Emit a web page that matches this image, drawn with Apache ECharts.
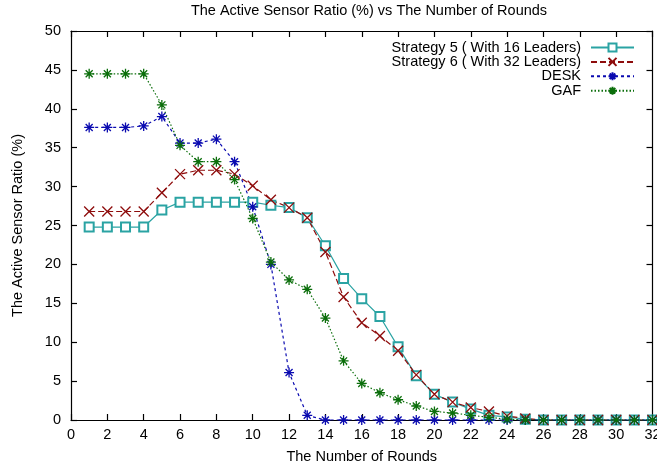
<!DOCTYPE html>
<html>
<head>
<meta charset="utf-8">
<script src="https://cdn.jsdelivr.net/npm/echarts@6/dist/echarts.min.js"></script>
<style>
  html, body { margin: 0; padding: 0; background: #fff; }
  #chart { width: 657px; height: 467px; }
</style>
</head>
<body>
<div id="chart"></div>
<script>
// rounds 1..32
const rounds = [1, 2, 3, 4, 5, 6, 7, 8, 9, 10, 11, 12, 13, 14, 15, 16,
  17, 18, 19, 20, 21, 22, 23, 24, 25, 26, 27, 28, 29, 30, 31, 32]

const strategy5 = [24.8, 24.8, 24.8, 24.8, 27.0, 28.0, 28.0, 28.0, 28.0, 28.0, 27.6, 27.3, 26.0, 22.4, 18.2, 15.6,
  13.3, 9.4, 5.7, 3.3, 2.3, 1.4, 0.6, 0.4, 0.1, 0, 0, 0, 0, 0, 0, 0]
const strategy6 = [26.8, 26.8, 26.8, 26.8, 29.2, 31.6, 32.1, 32.1, 31.6, 30.1, 28.3, 27.3, 26.0, 21.6, 15.8, 12.5,
  10.8, 8.9, 5.8, 3.3, 2.3, 1.6, 1.1, 0.5, 0.2, 0, 0, 0, 0, 0, 0, 0]
const desk = [37.6, 37.6, 37.6, 37.8, 39.0, 35.6, 35.6, 36.1, 33.2, 27.4, 20.0, 6.1, 0.6, 0, 0, 0,
  0, 0, 0, 0, 0, 0, 0, 0, 0, 0, 0, 0, 0, 0, 0, 0]
const gaf = [44.5, 44.5, 44.5, 44.5, 40.5, 35.3, 33.2, 33.2, 30.9, 25.9, 20.3, 18.0, 16.8, 13.1, 7.6, 4.7,
  3.5, 2.6, 1.8, 1.1, 0.9, 0.6, 0.35, 0.1, 0, 0, 0, 0, 0, 0, 0, 0]

const seriesNames = ['Strategy 5 ( With 16 Leaders)', 'Strategy 6 ( With 32 Leaders)', 'DESK', 'GAF']
const seriesColors = ['#2aa3a3', '#8e0c0c', '#0a0ab0', '#0b6e0b']

const FONT = 'Liberation Sans'
const FS = 14.5
const xSymbol = 'path://M0,0L10,10M10,0L0,10'
const starSymbol = 'path://M0,5L10,5M5,0L5,10M1.5,1.5L8.5,8.5M8.5,1.5L1.5,8.5'

const pairs = vals => rounds.map((r, i) => [r, vals[i]])

const chart = echarts.init(document.getElementById('chart'))

const mkSeries = (idx, vals, symbol, lineType, size) => ({
  name: seriesNames[idx],
  type: 'line',
  data: pairs(vals),
  showAllSymbol: true,
  symbol,
  symbolSize: size,
  lineStyle: { color: seriesColors[idx], width: 1.2, type: lineType },
  itemStyle: {
    color: symbol === 'emptyRect' ? seriesColors[idx] : 'none',
    borderColor: seriesColors[idx],
    borderWidth: 1.3
  },
  emphasis: { disabled: true },
  animation: false
})

// one legend per row so the samples line up on the right like gnuplot
const legends = seriesNames.map((n, i) => ({
  data: [n],
  right: 17,
  top: 35 + i * 14.4,
  align: 'right',
  itemWidth: 43,
  itemHeight: 10,
  itemGap: 0,
  textStyle: { fontFamily: FONT, fontSize: FS, color: '#000', padding: [0, 5, 0, 0] },
  selectedMode: false
}))

const axisLine = { onZero: false, lineStyle: { color: '#000', width: 1.2 } }
const axisTick = { inside: true, length: 6, lineStyle: { color: '#000', width: 1.2 } }

chart.setOption({
  backgroundColor: '#fff',
  title: {
    text: 'The Active Sensor Ratio (%) vs The Number of Rounds',
    left: 364,
    textAlign: 'center',
    top: -2,
    textStyle: { fontFamily: FONT, fontSize: FS, fontWeight: 'normal', color: '#000' }
  },
  legend: legends,
  grid: { left: 71, right: 4.5, top: 31, bottom: 47, outerBoundsMode: 'none' },
  xAxis: [{
    type: 'value', min: 0, max: 32, interval: 2,
    name: 'The Number of Rounds', nameLocation: 'middle', nameGap: 29,
    nameTextStyle: { fontFamily: FONT, fontSize: FS, color: '#000' },
    axisLine, axisTick,
    axisLabel: { fontFamily: FONT, fontSize: FS, color: '#000', margin: 7 },
    splitLine: { show: false }
  }, {
    type: 'value', min: 0, max: 32, interval: 2, position: 'top',
    axisLine, axisTick, axisLabel: { show: false }, splitLine: { show: false }
  }],
  yAxis: [{
    type: 'value', min: 0, max: 50, interval: 5,
    name: 'The Active Sensor Ratio (%)', nameLocation: 'middle', nameGap: 46,
    nameTextStyle: { fontFamily: FONT, fontSize: FS, color: '#000' },
    axisLine, axisTick,
    axisLabel: { fontFamily: FONT, fontSize: FS, color: '#000', margin: 10 },
    splitLine: { show: false }
  }, {
    type: 'value', min: 0, max: 50, interval: 5, position: 'right',
    axisLine, axisTick, axisLabel: { show: false }, splitLine: { show: false }
  }],
  series: [
    mkSeries(0, strategy5, 'emptyRect', 'solid', 9),
    mkSeries(1, strategy6, xSymbol, [6, 3], 10),
    mkSeries(2, desk, starSymbol, [3, 3], 10),
    mkSeries(3, gaf, starSymbol, [1.5, 2], 10)
  ]
})
</script>
</body>
</html>
